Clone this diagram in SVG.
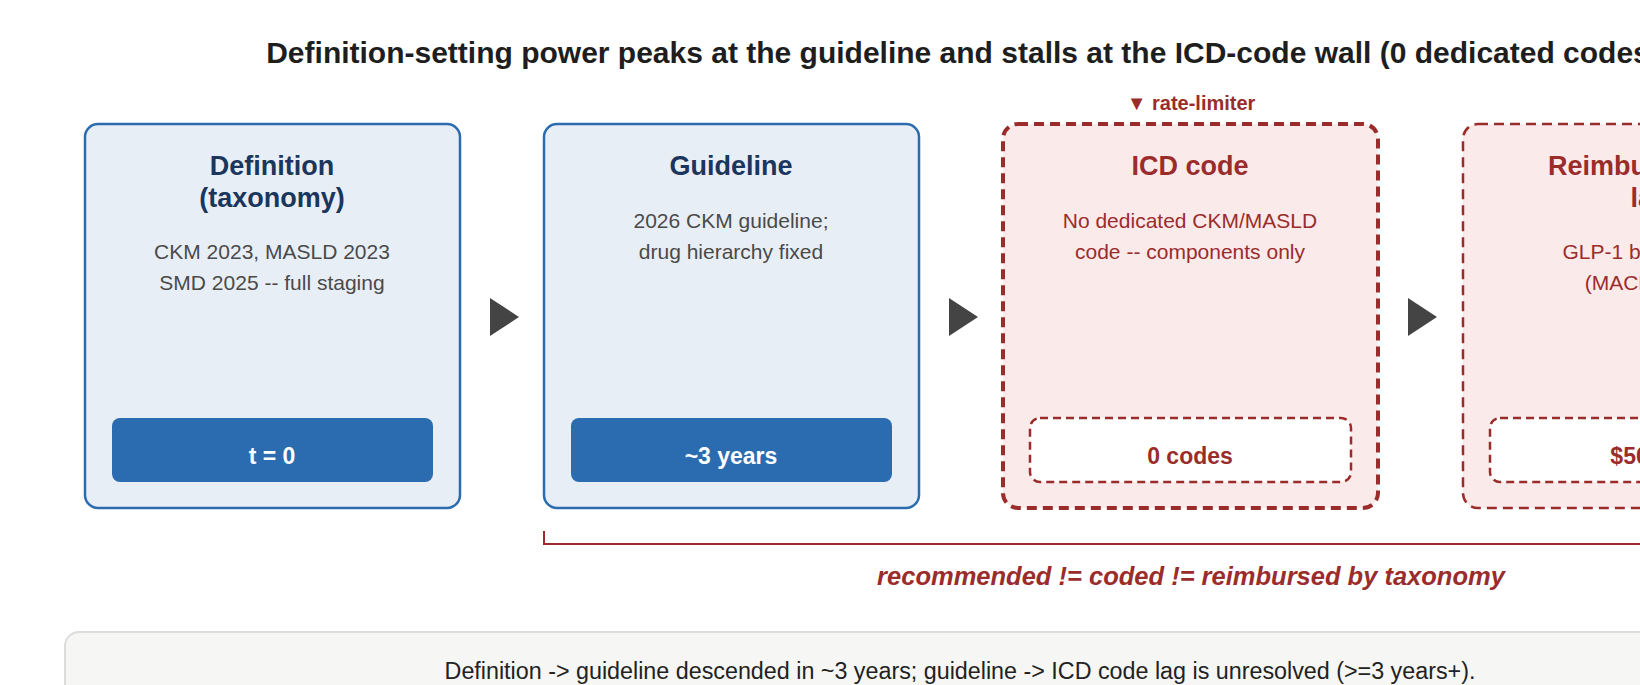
<svg xmlns="http://www.w3.org/2000/svg" width="1640" height="685" viewBox="0 0 1640 685">
<style>
text{font-family:"Liberation Sans",Arial,sans-serif}
.t{font-size:30px;font-weight:bold;fill:#1e1e1e;text-anchor:middle}
.bb{fill:#e8eef6;stroke:#2b6cb0;stroke-width:2.5}
.rb{fill:#fbeaea;stroke:#9b2c2c;stroke-width:4;stroke-dasharray:10 6}
.h{font-size:27px;font-weight:bold;text-anchor:middle}
.hb{fill:#1a365d}.hr{fill:#9b2c2c}
.d{font-size:21px;text-anchor:middle}
.db{fill:#4a4a4a}.dr{fill:#9b2c2c}
.pb{fill:#2b6cb0}
.pr{fill:#fff;stroke:#9b2c2c;stroke-width:2.5;stroke-dasharray:8 5}
.pt{font-size:23px;font-weight:bold;text-anchor:middle}
.ar{fill:#444}
</style>
<text class="t" x="963" y="63">Definition-setting power peaks at the guideline and stalls at the ICD-code wall (0 dedicated codes)</text>
<g id="n1">
<rect class="bb" x="85" y="124" width="375" height="384" rx="13"/>
<text class="h hb" x="272" y="175">Definition</text>
<text class="h hb" x="272" y="207">(taxonomy)</text>
<text class="d db" x="272" y="259">CKM 2023, MASLD 2023</text>
<text class="d db" x="272" y="290">SMD 2025 -- full staging</text>
<rect class="pb" x="112" y="418" width="321" height="64" rx="8"/>
<text class="pt" x="272" y="464" fill="#fff">t = 0</text>
</g>
<g id="n2">
<rect class="bb" x="544" y="124" width="375" height="384" rx="13"/>
<text class="h hb" x="731" y="175">Guideline</text>
<text class="d db" x="731" y="228">2026 CKM guideline;</text>
<text class="d db" x="731" y="259">drug hierarchy fixed</text>
<rect class="pb" x="571" y="418" width="321" height="64" rx="8"/>
<text class="pt" x="731" y="464" fill="#fff">~3 years</text>
</g>
<g id="n3">
<text x="1191" y="110" font-size="20" font-weight="bold" fill="#9b2c2c" text-anchor="middle">▼ rate-limiter</text>
<rect class="rb" x="1003" y="124" width="375" height="384" rx="15"/>
<text class="h hr" x="1190" y="175">ICD code</text>
<text class="d dr" x="1190" y="228">No dedicated CKM/MASLD</text>
<text class="d dr" x="1190" y="259">code -- components only</text>
<rect class="pr" x="1030" y="418" width="321" height="64" rx="10"/>
<text class="pt hr" x="1190" y="464">0 codes</text>
</g>
<g id="n4">
<rect x="1463" y="124" width="375" height="384" rx="15" fill="#fbeaea" stroke="#9b2c2c" stroke-width="2.5" stroke-dasharray="10 6"/>
<text class="h hr" x="1650" y="175">Reimbursement</text>
<text class="h hr" x="1650" y="207">lag</text>
<text class="d dr" x="1650" y="259">GLP-1 by outcome</text>
<text class="d dr" x="1650" y="290">(MACE, OSA)</text>
<rect class="pr" x="1490" y="418" width="321" height="64" rx="10"/>
<text class="pt hr" x="1650" y="464">$50/mo</text>
</g>
<g id="connectors">
<polygon class="ar" points="490,298 519,317 490,336"/>
<polygon class="ar" points="949,298 978,317 949,336"/>
<polygon class="ar" points="1408,298 1437,317 1408,336"/>
<path d="M544,531 V544 H1650" fill="none" stroke="#9b2c2c" stroke-width="2"/>
</g>
<text x="1191" y="585" font-size="25.5" font-weight="bold" font-style="italic" fill="#9b2c2c" text-anchor="middle">recommended != coded != reimbursed by taxonomy</text>
<g id="note">
<rect x="65" y="632" width="1620" height="100" rx="14" fill="#f6f6f4" stroke="#dcdcdc" stroke-width="2"/>
<text x="960" y="679" font-size="23.3" fill="#222" text-anchor="middle">Definition -&gt; guideline descended in ~3 years; guideline -&gt; ICD code lag is unresolved (&gt;=3 years+).</text>
</g>
</svg>
